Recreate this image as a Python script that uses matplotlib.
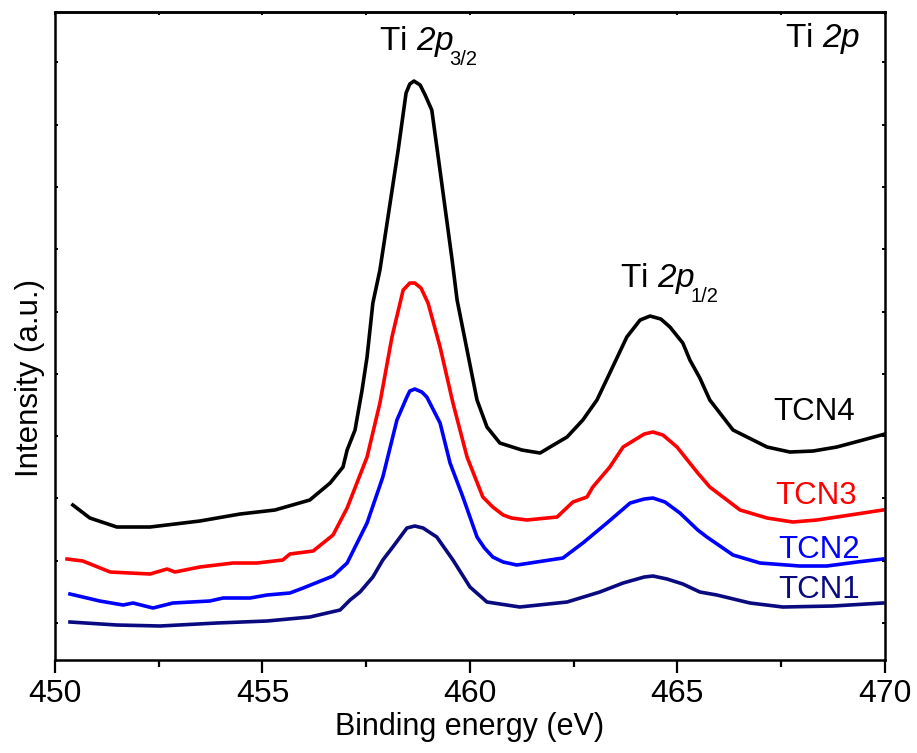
import numpy as np
import matplotlib
matplotlib.use('Agg')
from matplotlib import pyplot as plt
from matplotlib.ticker import MultipleLocator

plt.rcParams['font.family'] = 'Liberation Sans'
plt.rcParams['mathtext.fontset'] = 'custom'
plt.rcParams['mathtext.rm'] = 'Liberation Sans'
plt.rcParams['mathtext.sf'] = 'Liberation Sans:italic'

# binding energy (eV) / intensity (a.u.)
be_tcn4 = [450.43, 450.84, 451.49, 452.29, 453.49, 454.46, 455.30, 456.14, 456.63,
           456.94, 457.04, 457.23, 457.40, 457.52, 457.66, 457.83, 458.05, 458.27,
           458.46, 458.55, 458.65, 458.80, 458.92, 459.08, 459.30, 459.57, 459.69,
           459.93, 460.17, 460.41, 460.72, 461.25, 461.69, 461.93, 462.34, 462.72,
           463.06, 463.37, 463.78, 464.10, 464.34, 464.60, 464.82, 465.13, 465.30,
           465.54, 465.78, 466.34, 467.16, 467.71, 468.27, 468.84, 469.47, 470.0]
i_tcn4 = [155, 142, 133, 133, 139, 146, 150, 160, 177,
          193, 210, 230, 270, 303, 357, 390, 450, 510,
          567, 576, 579, 575, 565, 550, 483, 400, 360,
          310, 260, 233, 217, 210, 207, 213, 223, 240,
          260, 287, 323, 340, 344, 341, 333, 317, 300,
          282, 260, 230, 213, 208, 209, 213, 220, 226]

be_tcn3 = [450.29, 450.67, 451.33, 452.29, 452.70, 452.89, 453.49, 454.29, 454.87,
           455.49, 455.66, 456.22, 456.70, 457.04, 457.52, 457.83, 458.12, 458.39,
           458.55, 458.67, 458.82, 458.99, 459.28, 459.59, 459.93, 460.31, 460.55,
           460.80, 461.0, 461.37, 462.10, 462.48, 462.82, 462.96, 463.37, 463.69,
           464.20, 464.41, 464.65, 464.99, 465.49, 465.78, 466.51, 467.16, 467.78,
           468.36, 469.16, 469.95]
i_tcn3 = [101, 99, 88, 86, 91, 88, 93, 97, 97,
          100, 106, 109, 125, 152, 203, 257, 323, 370,
          377, 377, 372, 357, 313, 257, 203, 163, 153,
          145, 142, 140, 143, 158, 163, 173, 193, 213,
          226, 228, 225, 213, 187, 173, 150, 142, 138,
          140, 145, 150]

be_tcn2 = [450.36, 451.08, 451.64, 451.88, 452.36, 452.84, 453.73, 454.05, 454.70,
           455.11, 455.66, 455.98, 456.70, 457.04, 457.52, 457.90, 458.24, 458.48,
           458.55, 458.67, 458.84, 458.96, 459.28, 459.52, 459.83, 460.17, 460.35,
           460.55, 460.80, 461.13, 462.24, 462.72, 463.30, 463.86, 464.20, 464.41,
           464.70, 465.06, 465.49, 465.71, 466.34, 466.99, 467.95, 468.60, 469.33,
           469.95]
i_tcn2 = [66, 59, 55, 57, 52, 57, 59, 62, 62,
          65, 67, 72, 84, 97, 137, 183, 240, 263,
          269, 271, 268, 263, 237, 197, 163, 123, 112,
          103, 98, 95, 102, 117, 137, 157, 161, 162,
          158, 147, 130, 123, 105, 97, 94, 94, 98,
          101]

be_tcn1 = [450.36, 451.49, 452.53, 453.90, 455.11, 456.14, 456.87, 457.11, 457.35,
           457.66, 457.90, 458.14, 458.48, 458.67, 458.87, 459.20, 459.59, 460.0,
           460.41, 461.20, 462.34, 463.13, 463.69, 464.20, 464.41, 464.75, 465.13,
           465.54, 465.95, 466.75, 467.54, 468.75, 469.95]
i_tcn1 = [38, 35, 34, 37, 39, 43, 50, 60, 68,
          83, 100, 113, 132, 134, 132, 123, 100, 73,
          58, 53, 58, 68, 77, 83, 84, 81, 76,
          68, 65, 57, 53, 54, 57]

samples = ['TCN1', 'TCN2', 'TCN3', 'TCN4']
colors = ['#0a0a80', '#0000ff', '#ff0000', '#000000']
be_all = [be_tcn1, be_tcn2, be_tcn3, be_tcn4]
i_all = [i_tcn1, i_tcn2, i_tcn3, i_tcn4]
# label anchor (left, baseline)
label_pos = [(467.42, 62), (467.42, 102), (467.35, 156), (467.3, 240)]

fig = plt.figure(figsize=(9.17, 7.53), dpi=100)
ax = fig.add_axes([0.060, 0.1235, 0.905, 0.8605])

for be, inten, c in zip(be_all, i_all, colors):
    ax.plot(be, inten, color=c, lw=2.6, solid_joinstyle='round')

for name, c, (x, y) in zip(samples, colors, label_pos):
    ax.text(x, y, name, color=c, fontsize=22.5, ha='left', va='baseline')

# peak labels, the j subscript is a separate smaller text
t1 = ax.text(457.80, 610, r'Ti $\mathsf{2p}$', fontsize=24, va='baseline')
ax.annotate('3/2', xy=(1, 0), xycoords=t1, xytext=(-3.5, -4),
            textcoords='offset points', fontsize=14.5, va='baseline')
t2 = ax.text(463.61, 373, r'Ti $\mathsf{2p}$', fontsize=24, va='baseline')
ax.annotate('1/2', xy=(1, 0), xycoords=t2, xytext=(-3.5, -4),
            textcoords='offset points', fontsize=14.5, va='baseline')
ax.text(467.59, 613, r'Ti $\mathsf{2p}$', fontsize=24, va='baseline')

ax.set_xlim(450, 470)
ax.set_ylim(0, 648)
ax.xaxis.set_major_locator(MultipleLocator(5))
ax.xaxis.set_minor_locator(MultipleLocator(2.5))
ax.set_yticks(np.arange(37, 640, 62.3))

ax.tick_params(axis='x', which='major', direction='out', length=9.5, width=1.6,
               labelsize=23, pad=4)
ax.tick_params(axis='x', which='minor', direction='out', length=5, width=1.6)
ax.tick_params(axis='y', which='major', direction='in', length=2.5, width=1.4,
               left=True, right=True, labelleft=False)
top = ax.secondary_xaxis('top')
top.xaxis.set_major_locator(MultipleLocator(2.5))
top.tick_params(direction='in', length=2.5, width=1.4, labeltop=False)
top.spines['top'].set_linewidth(1.8)
for s in ax.spines.values():
    s.set_linewidth(1.8)

ax.set_xlabel('Binding energy (eV)', fontsize=22, labelpad=2)
ax.set_ylabel('Intensity (a.u.)', fontsize=22.5)
ax.yaxis.set_label_coords(-0.012, 0.435)

plt.savefig('out.png', dpi=100)
